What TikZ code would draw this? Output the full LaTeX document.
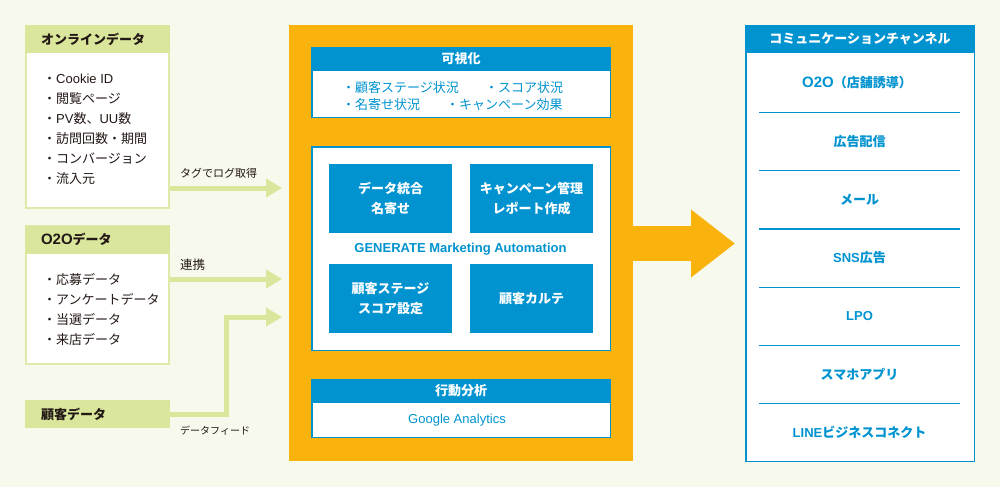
\documentclass[tikz,border=0pt]{standalone}
\usepackage{fontspec}
\setmainfont{Noto Sans CJK JP}
\newfontfamily\latinfont{Liberation Sans}
\newcommand{\otwoo}{{\latinfont\fontsize{15}{15}\selectfont O2O}}
\usetikzlibrary{arrows.meta}
\definecolor{bgcol}{HTML}{F7F9EC}
\definecolor{greencol}{HTML}{D9E69B}
\definecolor{orangecol}{HTML}{FAB30C}
\definecolor{bluecol}{HTML}{0093D0}
\definecolor{inkcol}{HTML}{231815}
\tikzset{
	src_box/.style={draw=greencol!85!white,fill=white,line width=2pt,inner sep=0pt},
	src_head/.style={fill=greencol,minimum height=28pt,text width=113pt,inner xsep=16pt,inner ysep=0pt,align=left,font=\fontsize{13}{13}\selectfont\bfseries,text=inkcol},
	src_list/.style={anchor=west,inner sep=0pt,align=left,font=\fontsize{13}{20}\selectfont,text=inkcol},
	flow_label/.style={anchor=west,inner sep=0pt,font=\fontsize{11}{11}\selectfont,text=inkcol},
	flow/.style={draw=greencol,line width=5pt,-{Triangle[length=16pt,width=18pt]}},
	blue_box/.style={draw=bluecol,fill=white,line width=1.5pt,inner sep=0pt},
	blue_head/.style={fill=bluecol,inner sep=0pt,text=white,font=\fontsize{13}{13}\selectfont\bfseries},
	blue_text/.style={inner sep=0pt,text=bluecol,font=\fontsize{13}{13}\selectfont},
	func_box/.style={fill=bluecol,minimum width=123pt,minimum height=69pt,inner sep=0pt,align=center,text=white,font=\fontsize{13}{20}\selectfont\bfseries},
	row/.style={minimum width=201pt,minimum height=58.3pt,inner sep=0pt,text=bluecol,font=\fontsize{13}{13}\selectfont\bfseries},
	row_line/.style={draw=bluecol,line width=1.2pt}
}
\begin{document}
\begin{tikzpicture}[x=1pt,y=-1pt]
	\fill[bgcol] (0,0) rectangle (1000,487);
	\useasboundingbox (0,0) rectangle (1000,487);

	% sources
	\node[src_box,minimum width=143pt,minimum height=182pt] (online) at (97.5,117) {};
	\node[src_head] (online_head) at (97.5,39.5) {オンラインデータ};
	\node[src_list] (online_list) at (43,129.5) {・{\latinfont Cookie ID}\\・閲覧ページ\\・{\latinfont PV}数、{\latinfont UU}数\\・訪問回数・期間\\・コンバージョン\\・流入元};

	\node[src_box,minimum width=143pt,minimum height=138pt] (o2o) at (97.5,295) {};
	\node[src_head] (o2o_head) at (97.5,239.5) {\otwoo データ};
	\node[src_list] (o2o_list) at (43,309.5) {・応募データ\\・アンケートデータ\\・当選データ\\・来店データ};

	\node[src_head] (customer) at (97.5,414) {顧客データ};

	\coordinate (in1) at (282,188);
	\coordinate (in2) at (282,279);
	\coordinate (in3) at (282,317);
	\draw[flow] (online.east |- in1) -- (in1);
	\draw[flow] (o2o.east |- in2) -- (in2);
	\draw[flow] (customer.east) -| (226,317) -- (in3);

	\node[flow_label] (label1) at (180,173.5) {タグでログ取得};
	\node[flow_label,font=\fontsize{12.5}{12.5}\selectfont] (label2) at (180,264.5) {連携};
	\node[flow_label,font=\fontsize{10}{10}\selectfont] (label3) at (180,431) {データフィード};

	% center
	\node[fill=orangecol,minimum width=344pt,minimum height=436pt,inner sep=0pt] (center) at (461,243) {};

	\node[blue_box,minimum width=298.5pt,minimum height=69.5pt] (visual) at (461,82.5) {};
	\node[blue_head,minimum width=300pt,minimum height=24pt] (visual_head) at (461,59) {可視化};
	\node[blue_text,anchor=west] (visual1) at (342,87.5) {・顧客ステージ状況};
	\node[blue_text,anchor=west] (visual2) at (485,87.5) {・スコア状況};
	\node[blue_text,anchor=west] (visual3) at (342,104.5) {・名寄せ状況};
	\node[blue_text,anchor=west] (visual4) at (446,104.5) {・キャンペーン効果};

	\node[blue_box,minimum width=298.5pt,minimum height=203.5pt] (ma) at (461,248.5) {};
	\node[func_box] (func1) at (390.5,198.5) {データ統合\\名寄せ};
	\node[func_box] (func2) at (531.5,198.5) {キャンペーン管理\\レポート作成};
	\node[blue_text,font=\fontsize{13}{13}\selectfont\latinfont\bfseries] (ma_name) at (460.5,249) {GENERATE Marketing Automation};
	\node[func_box] (func3) at (390.5,298.5) {顧客ステージ\\スコア設定};
	\node[func_box] (func4) at (531.5,298.5) {顧客カルテ};

	\node[blue_box,minimum width=298.5pt,minimum height=57.5pt] (action) at (461,408.5) {};
	\node[blue_head,minimum width=300pt,minimum height=24pt] (action_head) at (461,391) {行動分析};
	\node[blue_text,font=\fontsize{13}{13}\selectfont\latinfont] (action_text) at (457,420) {Google Analytics};

	% output
	\draw[orangecol,line width=35pt,-{Triangle[length=44pt,width=65pt]}] (center.east |- 0,243.5) -- (735,243.5);

	\node[blue_box,minimum width=228.5pt,minimum height=435.5pt] (channel) at (860,243.5) {};
	\node[blue_head,minimum width=230pt,minimum height=28pt] (channel_head) at (860,39) {コミュニケーションチャンネル};
	\node[row] (ch1) at (857,83) {\otwoo（店舗誘導）};
	\node[row] (ch2) at (859.5,141.3) {広告配信};
	\node[row] (ch3) at (859.5,199.6) {メール};
	\node[row] (ch4) at (859.5,257.9) {{\latinfont SNS}広告};
	\node[row] (ch5) at (859.5,316.2) {{\latinfont LPO}};
	\node[row] (ch6) at (859.5,374.5) {スマホアプリ};
	\node[row] (ch7) at (859.5,432.8) {{\latinfont LINE}ビジネスコネクト};
	\coordinate (line_w) at (759,0);
	\coordinate (line_e) at (960,0);
	\draw[row_line] (line_w |- ch1.south) -- (line_e |- ch1.south);
	\draw[row_line] (line_w |- ch2.south) -- (line_e |- ch2.south);
	\draw[row_line] (line_w |- ch3.south) -- (line_e |- ch3.south);
	\draw[row_line] (line_w |- ch4.south) -- (line_e |- ch4.south);
	\draw[row_line] (line_w |- ch5.south) -- (line_e |- ch5.south);
	\draw[row_line] (line_w |- ch6.south) -- (line_e |- ch6.south);
\end{tikzpicture}
\end{document}
